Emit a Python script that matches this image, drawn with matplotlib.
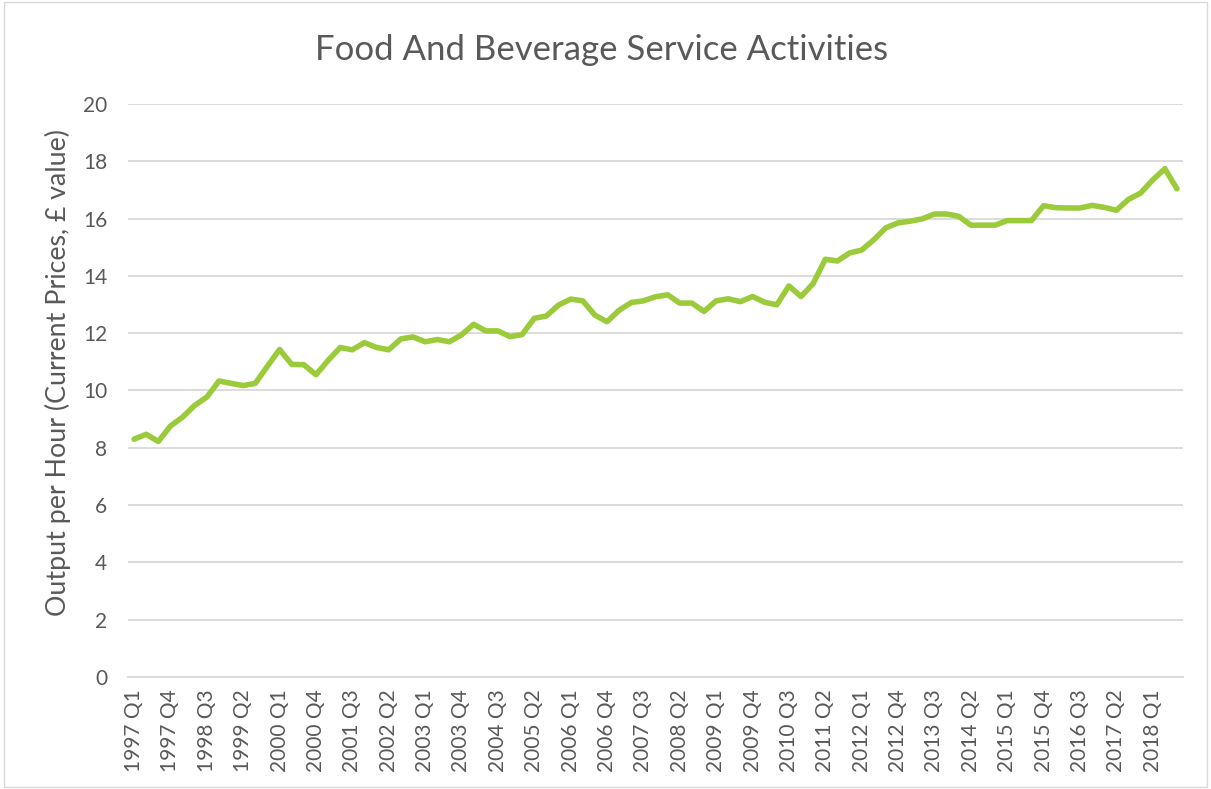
import matplotlib
matplotlib.use("Agg")
import matplotlib.pyplot as plt
from matplotlib.patches import Rectangle

# quarters 1997 Q1 .. 2018 Q3
years = list(range(1997, 2019))
quarters = [f"{y} Q{q}" for y in years for q in range(1, 5)][:87]

output_per_hour = [
    8.30, 8.47, 8.22, 8.76, 9.07, 9.48, 9.77, 10.33, 10.25, 10.17,
    10.25, 10.85, 11.43, 10.91, 10.90, 10.55, 11.05, 11.50, 11.42, 11.67,
    11.50, 11.42, 11.80, 11.87, 11.70, 11.78, 11.70, 11.94, 12.31, 12.08,
    12.08, 11.88, 11.95, 12.52, 12.60, 12.98, 13.19, 13.13, 12.63, 12.40,
    12.80, 13.07, 13.13, 13.27, 13.34, 13.05, 13.05, 12.76, 13.13, 13.20,
    13.10, 13.28, 13.08, 12.99, 13.65, 13.28, 13.73, 14.58, 14.52, 14.80,
    14.90, 15.26, 15.68, 15.85, 15.91, 15.99, 16.16, 16.16, 16.08, 15.77,
    15.77, 15.77, 15.93, 15.93, 15.93, 16.45, 16.38, 16.37, 16.37, 16.46,
    16.39, 16.29, 16.67, 16.89, 17.35, 17.74, 17.04,
]

yticks = [0, 2, 4, 6, 8, 10, 12, 14, 16, 18, 20]

plt.rcParams['font.family'] = ['Lato', 'DejaVu Sans']
grey = '#595959'

fig = plt.figure(figsize=(12.11, 7.89), dpi=100)
ax = fig.add_axes([0.1057, 0.142, 0.8712, 0.7262])

x = list(range(len(quarters)))
ax.plot(x, output_per_hour, color='#9BCB3B', linewidth=4.0, solid_joinstyle='round',
        solid_capstyle='round', zorder=3)

ax.set_ylim(0, 20)
ax.set_xlim(-0.5, len(quarters) - 0.5)
ax.set_yticks(yticks)
ax.set_xticks(x[::3])
ax.set_xticklabels(quarters[::3], rotation=90)
ax.grid(axis='y', color='#d9d9d9', linewidth=1.3)
ax.set_axisbelow(True)
for s in ['top', 'right', 'left']:
    ax.spines[s].set_visible(False)
ax.spines['bottom'].set_color('#d9d9d9')
ax.spines['bottom'].set_linewidth(1.3)
ax.tick_params(axis='both', length=0, colors=grey, labelsize=15)
ax.tick_params(axis='y', pad=15)
ax.tick_params(axis='x', pad=9)

ax.set_ylabel('Output per Hour (Current Prices, £ value)', fontsize=19.3, color=grey,
              va='center')
ax.yaxis.set_label_coords(-0.066, 0.532)
fig.text(0.497, 0.937, 'Food And Beverage Service Activities', ha='center', va='center',
         fontsize=25, color=grey)

fig.patches.append(Rectangle((0.003, 0.002), 0.994, 0.996, transform=fig.transFigure,
                             fill=False, edgecolor='#d9d9d9', linewidth=1))

fig.savefig('out.png', dpi=100)
